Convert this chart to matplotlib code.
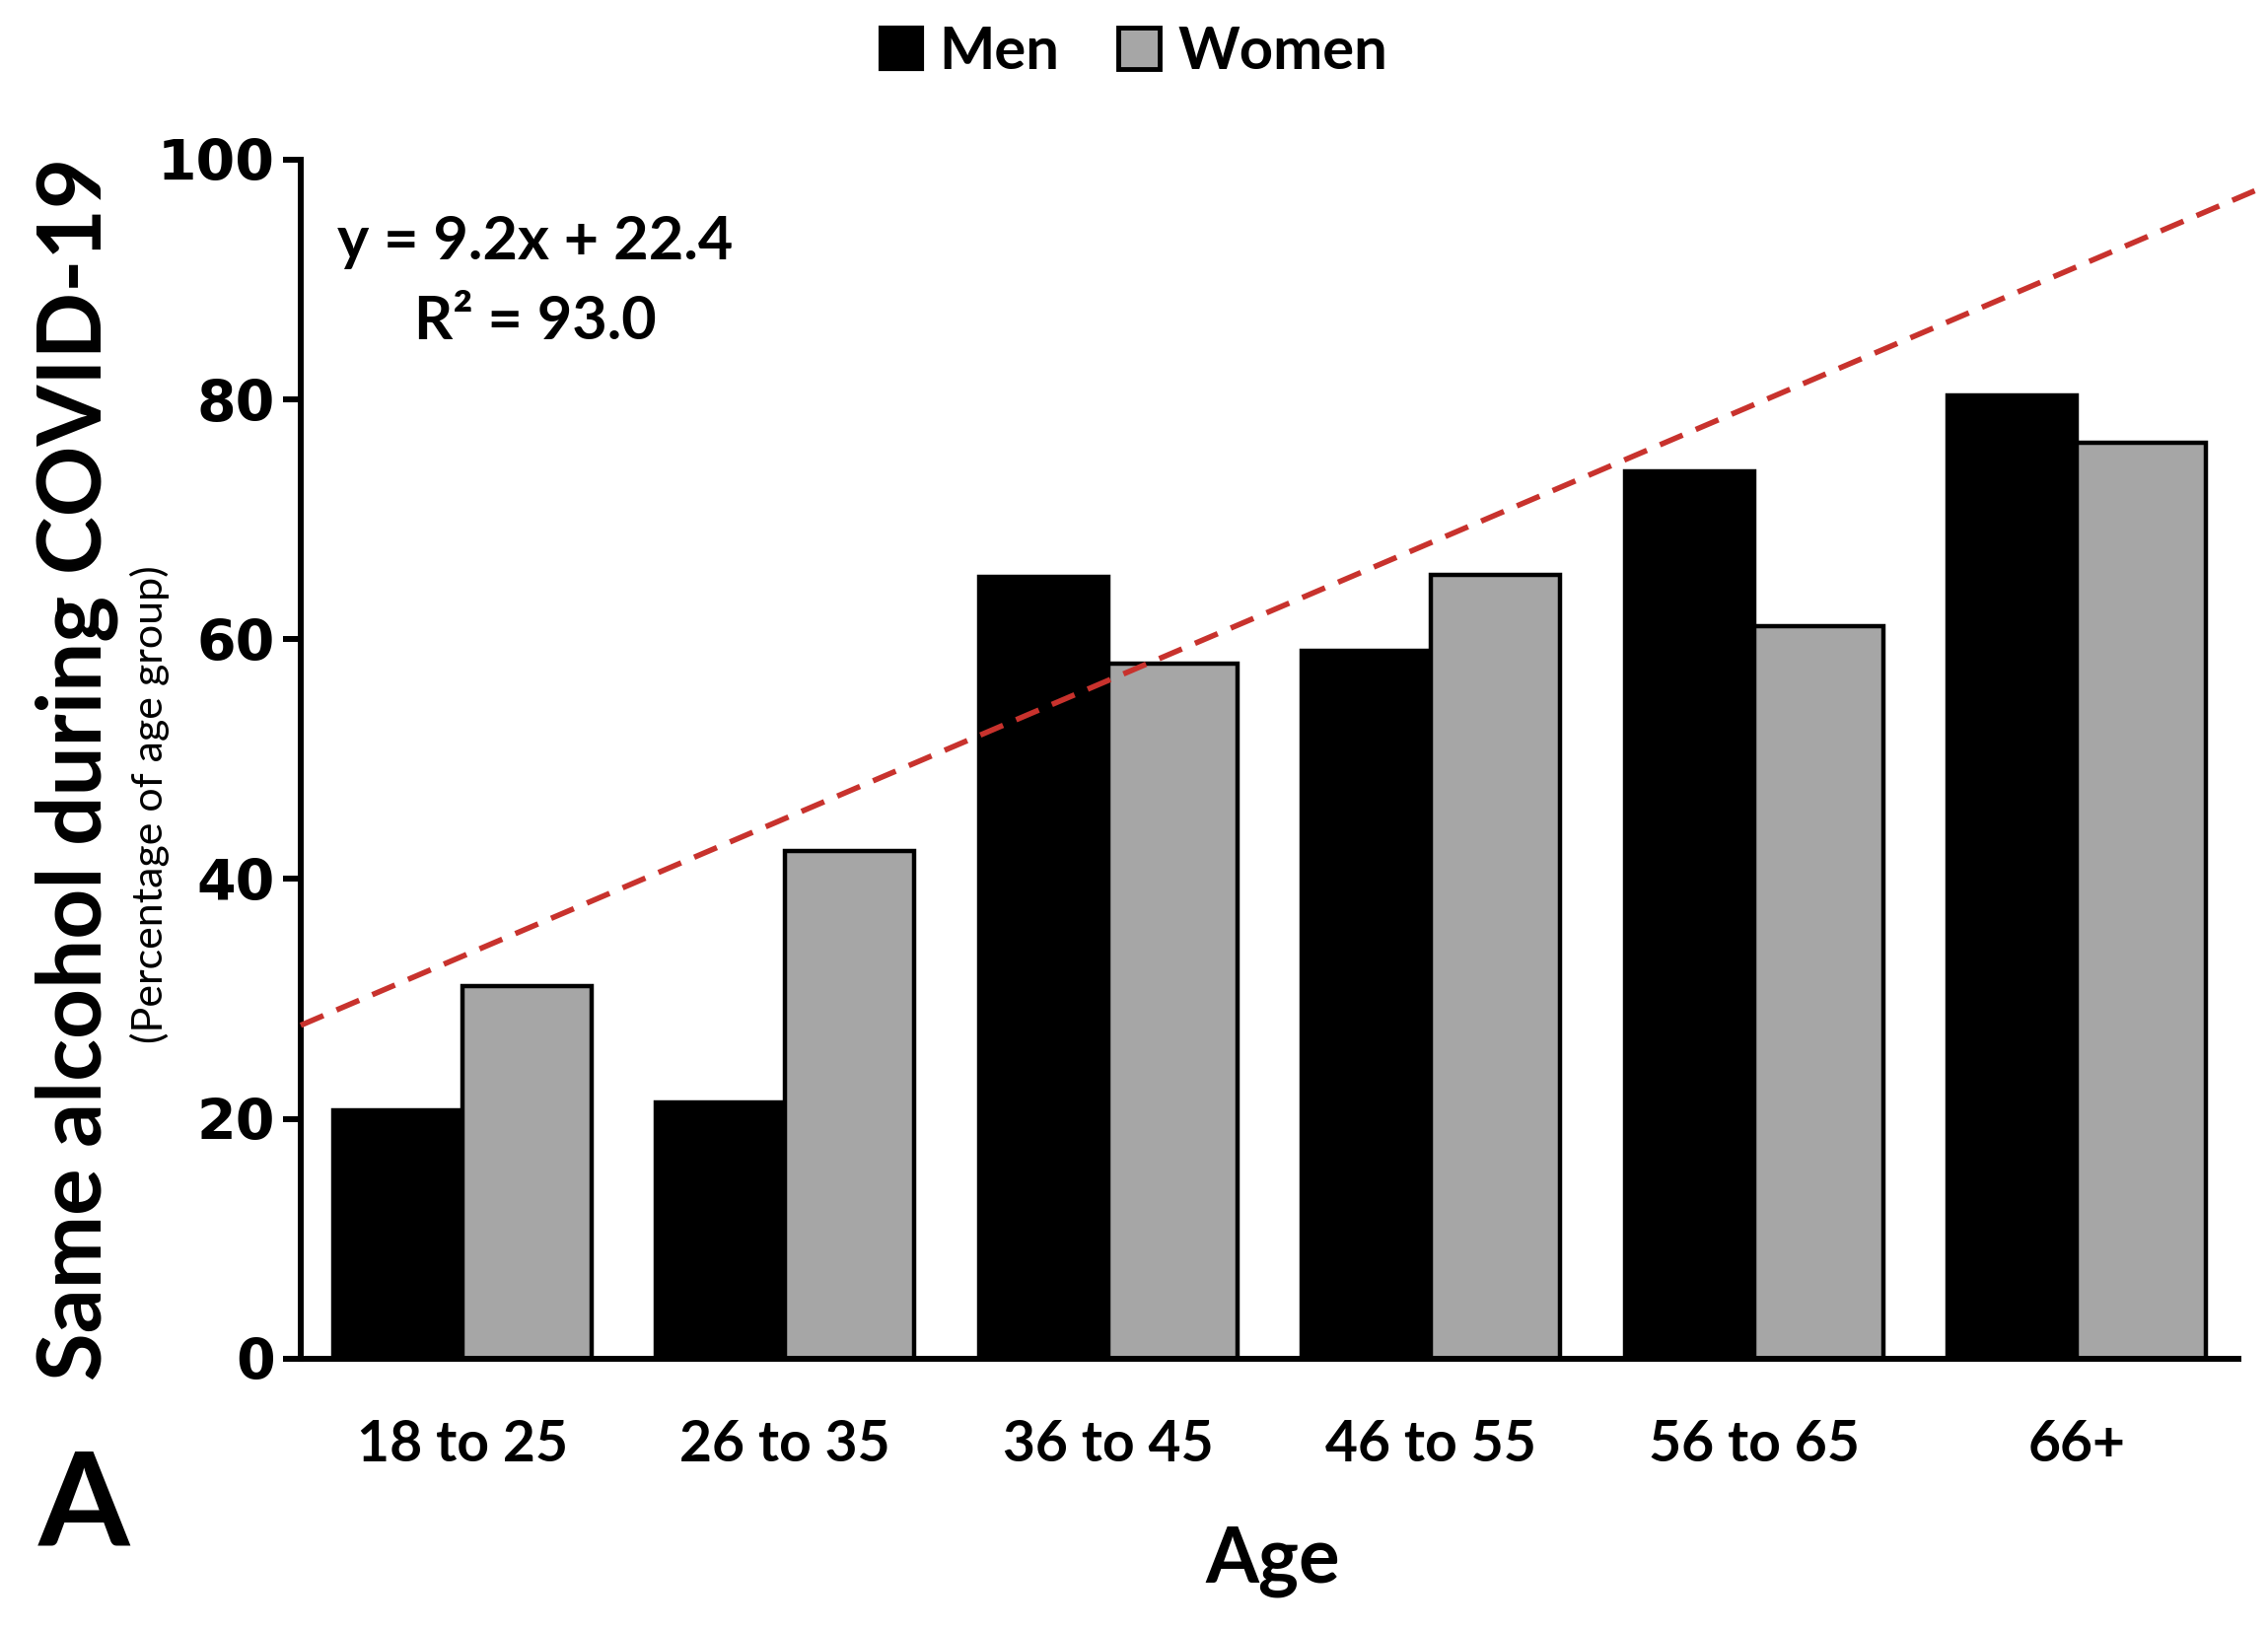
import numpy as np
import matplotlib.pyplot as plt
from matplotlib.patches import Patch

# Data
age_groups = ['18 to 25', '26 to 35', '36 to 45', '46 to 55', '56 to 65', '66+']
men = [20.7, 21.4, 65.2, 59.0, 74.0, 80.3]
women = [31.1, 42.3, 58.0, 65.4, 61.1, 76.4]
trend_x = [-0.5, 5.55]
trend_y = [27.8, 97.4]
yticks = [0, 20, 40, 60, 80, 100]

fig = plt.figure(figsize=(23, 16.52), dpi=100)
ax = fig.add_axes([0.1326, 0.166, 0.8544, 0.736])

x = np.arange(len(age_groups))
w = 0.4
ax.bar(x - w/2, men, w, color='black', edgecolor='black', linewidth=3.2, zorder=2)
ax.bar(x + w/2, women, w, color='#a6a6a6', edgecolor='black', linewidth=3.2, zorder=2)

ax.plot(trend_x, trend_y, color='#c8322d', lw=4, dashes=(4.5, 2.6), zorder=3, clip_on=False)

ax.set_xlim(-0.5, 5.5)
ax.set_ylim(0, 100)
ax.set_yticks(yticks)
ax.set_xticks(x)
ax.set_xticklabels(age_groups, family='Lato', weight='bold', fontsize=41)
ax.set_yticklabels([str(t) for t in yticks], family='DejaVu Sans', weight='bold', fontsize=41)
ax.tick_params(axis='x', length=0, pad=44)
ax.tick_params(axis='y', length=13, width=4.3, pad=6)

for s in ['top', 'right']:
    ax.spines[s].set_visible(False)
for s in ['left', 'bottom']:
    ax.spines[s].set_linewidth(4.3)

# equation text
ax.text(0.121, 0.932, 'y = 9.2x + 22.4', transform=ax.transAxes, ha='center', va='center',
        family='Lato', weight='bold', fontsize=44)
ax.text(0.121, 0.865, 'R\u00b2 = 93.0', transform=ax.transAxes, ha='center', va='center',
        family='Lato', weight='bold', fontsize=44)

# y labels
fig.text(0.034, 0.528, 'Same alcohol during COVID-19', rotation=90, ha='center', va='center',
         family='Lato', weight='bold', fontsize=64)
fig.text(0.066, 0.506, '(Percentage of age group)', rotation=90, ha='center', va='center',
         family='Lato', fontsize=31)

fig.text(0.561, 0.041, 'Age', ha='center', va='center', family='Lato', weight='bold', fontsize=56)
fig.text(0.037, 0.074, 'A', ha='center', va='center', family='Lato', weight='bold', fontsize=96)

handles = [Patch(facecolor='black', edgecolor='black', linewidth=3),
           Patch(facecolor='#a6a6a6', edgecolor='black', linewidth=3.5)]
fig.legend(handles, ['Men', 'Women'], loc='center', bbox_to_anchor=(0.5, 0.968), ncol=2,
           frameon=False, prop={'family': 'Lato', 'weight': 'bold', 'size': 43},
           handlelength=0.7, handleheight=0.7, handletextpad=0.3, columnspacing=1.0)

fig.savefig('out.png', dpi=100)
